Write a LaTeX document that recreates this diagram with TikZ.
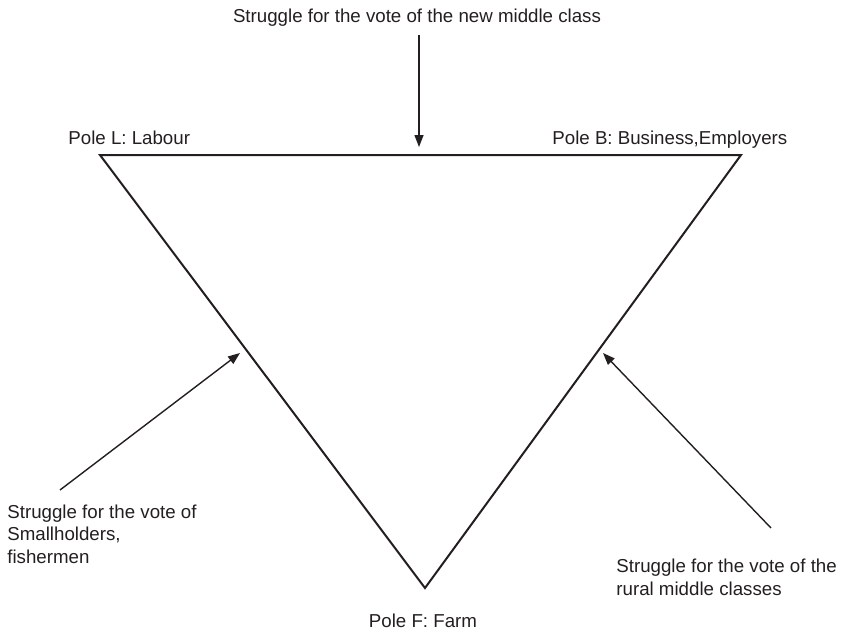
\documentclass[tikz,border=0pt]{standalone}
\usepackage{fontspec}
\setmainfont{Liberation Sans}
\usetikzlibrary{arrows.meta}
\definecolor{ink}{RGB}{35,31,32}
\tikzset{
  pole/.style={inner sep=0pt, anchor=base west, text=ink},
  vote/.style={inner sep=0pt, anchor=base west, align=left, text=ink},
  side/.style={draw=ink, line width=1pt, line join=miter},
  push/.style={draw=ink, line width=0.7pt, -{Triangle[length=6pt,width=4.5pt]}}
}

\begin{document}
\begin{tikzpicture}[x=0.5pt,y=-0.5pt,font=\fontsize{9.35}{11.25}\selectfont]
	\useasboundingbox (0,0) rectangle (841,633);
	% the three poles
	\coordinate (L) at (100,155);
	\coordinate (B) at (741,155);
	\coordinate (F) at (425,588);
	\draw[side] (L) -- (B) -- (F) -- cycle;
	
	\node[pole] (labour) at (68,144) {Pole L: Labour};
	\node[pole] (business) at (552,144) {Pole B: Business,Employers};
	\node[pole, anchor=base] (farm) at (423,627) {Pole F: Farm};
	
	% the middle groups (base = last line)
	\node[pole, anchor=base] (newmid) at (417,22) {Struggle for the vote of the new middle class};
	\node[vote] (smallh) at (7,563) {Struggle for the vote of\\Smallholders,\\fishermen};
	\node[vote] (rural) at (616,595) {Struggle for the vote of the\\rural middle classes};
	
	\coordinate (toptail) at (419,35);
	\coordinate (topin) at (419,147);
	\coordinate (lefttail) at (60,490);
	\coordinate (leftin) at (240,353);
	\coordinate (righttail) at (771,528);
	\coordinate (rightin) at (603,353);
	
	\draw[push] (toptail) -- (topin);
	\draw[push] (lefttail) -- (leftin);
	\draw[push] (righttail) -- (rightin);
\end{tikzpicture}
\end{document}
